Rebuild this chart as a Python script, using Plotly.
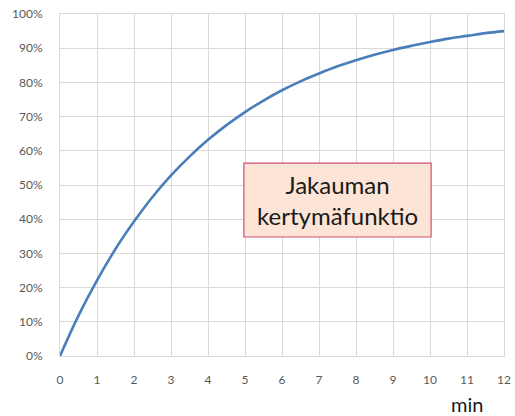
import plotly.graph_objects as go

# Cumulative distribution, sampled every half minute
minutes = [0, 0.5, 1, 1.5, 2, 2.5, 3, 3.5, 4, 4.5, 5, 5.5, 6, 6.5, 7, 7.5,
           8, 8.5, 9, 9.5, 10, 10.5, 11, 11.5, 12]
cdf = [0.0, 0.118, 0.221, 0.313, 0.393, 0.465, 0.528, 0.583, 0.632, 0.675,
       0.713, 0.747, 0.777, 0.803, 0.826, 0.847, 0.865, 0.881, 0.895, 0.907,
       0.918, 0.928, 0.936, 0.944, 0.950]

x_ticks = list(range(0, 13))
y_ticks = [i / 10 for i in range(0, 11)]
y_tick_labels = [f"{i * 10}%" for i in range(0, 11)]

fig = go.Figure()
fig.add_trace(go.Scatter(
    x=minutes, y=cdf, mode="lines",
    line=dict(color="#4A7EBB", width=2.6, shape="spline"),
    hoverinfo="skip", showlegend=False,
))

grid = "#D9D9D9"
font_family = "Lato, 'Open Sans', sans-serif"
tick_font = dict(family=font_family, size=12, color="#595959")

# Plot area in pixels
L, R, T, B = 60, 11, 14, 60
W, H = 515, 416
plot_w = W - L - R
plot_h = H - T - B

fig.update_layout(
    width=W, height=H,
    margin=dict(l=L, r=R, t=T, b=B, autoexpand=False),
    paper_bgcolor="white", plot_bgcolor="white",
    xaxis=dict(
        range=[0, 12], tickvals=x_ticks, ticktext=[str(v) for v in x_ticks],
        showgrid=True, gridcolor=grid, gridwidth=1,
        showline=True, linecolor=grid, linewidth=1, mirror=True,
        zeroline=False, ticks="", tickfont=tick_font, ticklabelstandoff=13,
        automargin=False, fixedrange=True,
    ),
    yaxis=dict(
        range=[0, 1], tickvals=y_ticks, ticktext=y_tick_labels,
        showgrid=True, gridcolor=grid, gridwidth=1,
        showline=True, linecolor=grid, linewidth=1, mirror=True,
        zeroline=False, ticks="", tickfont=tick_font, ticklabelstandoff=14,
        automargin=False, fixedrange=True,
    ),
    shapes=[dict(
        type="rect", xref="x", yref="y",
        x0=4.97, x1=10.03, y0=0.348, y1=0.564,
        fillcolor="#FCE4D6", line=dict(color="#D0506E", width=1.2),
        layer="above",
    )],
    annotations=[
        dict(
            x=7.5, y=0.456, xref="x", yref="y",
            text="Jakauman<br>kertymäfunktio", showarrow=False,
            font=dict(family=font_family, size=24, color="#1a1a1a"),
            align="center",
        ),
        dict(
            x=(467 - L) / plot_w, y=(H - B - 404) / plot_h,
            xref="paper", yref="paper", xanchor="center", yanchor="middle",
            text="min", showarrow=False,
            font=dict(family=font_family, size=20, color="#1a1a1a"),
        ),
    ],
)

fig.write_html("out.html")
